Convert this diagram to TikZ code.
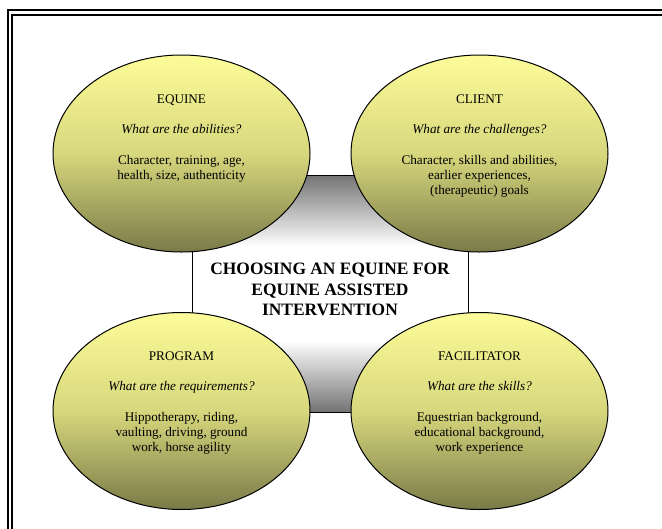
\documentclass[tikz,border=0pt]{standalone}
\usepackage{fontspec}
\setmainfont{Liberation Serif}
\usetikzlibrary{shapes.geometric}
\definecolor{ellTop}{RGB}{252,252,153}
\definecolor{ellMid}{RGB}{215,215,125}
\definecolor{ellBot}{RGB}{122,122,72}
\definecolor{boxGray}{RGB}{115,115,115}
\pgfdeclareverticalshading{ellshade}{100bp}{color(0bp)=(ellBot); color(25bp)=(ellBot); color(50bp)=(ellMid); color(75bp)=(ellTop); color(100bp)=(ellTop)}
\pgfdeclareverticalshading{boxshade}{100bp}{color(0bp)=(boxGray); color(25bp)=(boxGray); color(40bp)=(white); color(60bp)=(white); color(75bp)=(boxGray); color(100bp)=(boxGray)}
\tikzset{
  bubble/.style={ellipse, draw, line width=1pt, shade, shading=ellshade,
    minimum width=257pt, minimum height=197pt, inner sep=0pt},
  centrebox/.style={draw, line width=0.8pt, shade, shading=boxshade,
    minimum width=276pt, minimum height=237pt, inner sep=0pt},
  bodytext/.style={anchor=base, align=center, inner sep=0pt,
    font=\fontsize{13.2}{15.2}\selectfont},
  qtext/.style={bodytext, font=\fontsize{13.2}{15.2}\selectfont\itshape},
  titletext/.style={anchor=base, align=center, inner sep=0pt,
    font=\fontsize{17.4}{20.7}\selectfont\bfseries}
}
\begin{document}
\begin{tikzpicture}[x=1pt,y=-1pt]
\useasboundingbox (0,0) rectangle (662,528);
\clip (0,0) rectangle (662,528);
\draw[line width=2.4pt] (8,10) rectangle (690,560);
\draw[line width=1.8pt] (12.3,15) rectangle (685,555);

\node[centrebox] (centre) at (330,293.5) {};
% anchor=base of a multi-line node is the baseline of its last line
\node[titletext] (ctitle) at (330,315.7) {CHOOSING AN EQUINE FOR\\EQUINE ASSISTED\\INTERVENTION};

\node[bubble] (equine) at (181.5,153.5) {};
\node[bubble] (client) at (479.5,153.5) {};
\node[bubble] (program) at (181.5,411) {};
\node[bubble] (facil) at (479.5,411) {};

\node[bodytext] (eqh) at (181.5,103) {EQUINE};
\node[qtext] (eqq) at (181.5,133) {What are the abilities?};
\node[bodytext] (eqb) at (181.5,179.2) {Character, training, age,\\health, size, authenticity};

\node[bodytext] (clh) at (479.5,103) {CLIENT};
\node[qtext] (clq) at (479.5,133) {What are the challenges?};
\node[bodytext] (clb) at (479.5,194.4) {Character, skills and abilities,\\earlier experiences,\\(therapeutic) goals};

\node[bodytext] (prh) at (181.5,360) {PROGRAM};
\node[qtext] (prq) at (181.5,390) {What are the requirements?};
\node[bodytext] (prb) at (181.5,451.4) {Hippotherapy, riding,\\vaulting, driving, ground\\work, horse agility};

\node[bodytext] (fah) at (479.5,360) {FACILITATOR};
\node[qtext] (faq) at (479.5,390) {What are the skills?};
\node[bodytext] (fab) at (479.5,451.4) {Equestrian background,\\educational background,\\work experience};
\end{tikzpicture}
\end{document}
